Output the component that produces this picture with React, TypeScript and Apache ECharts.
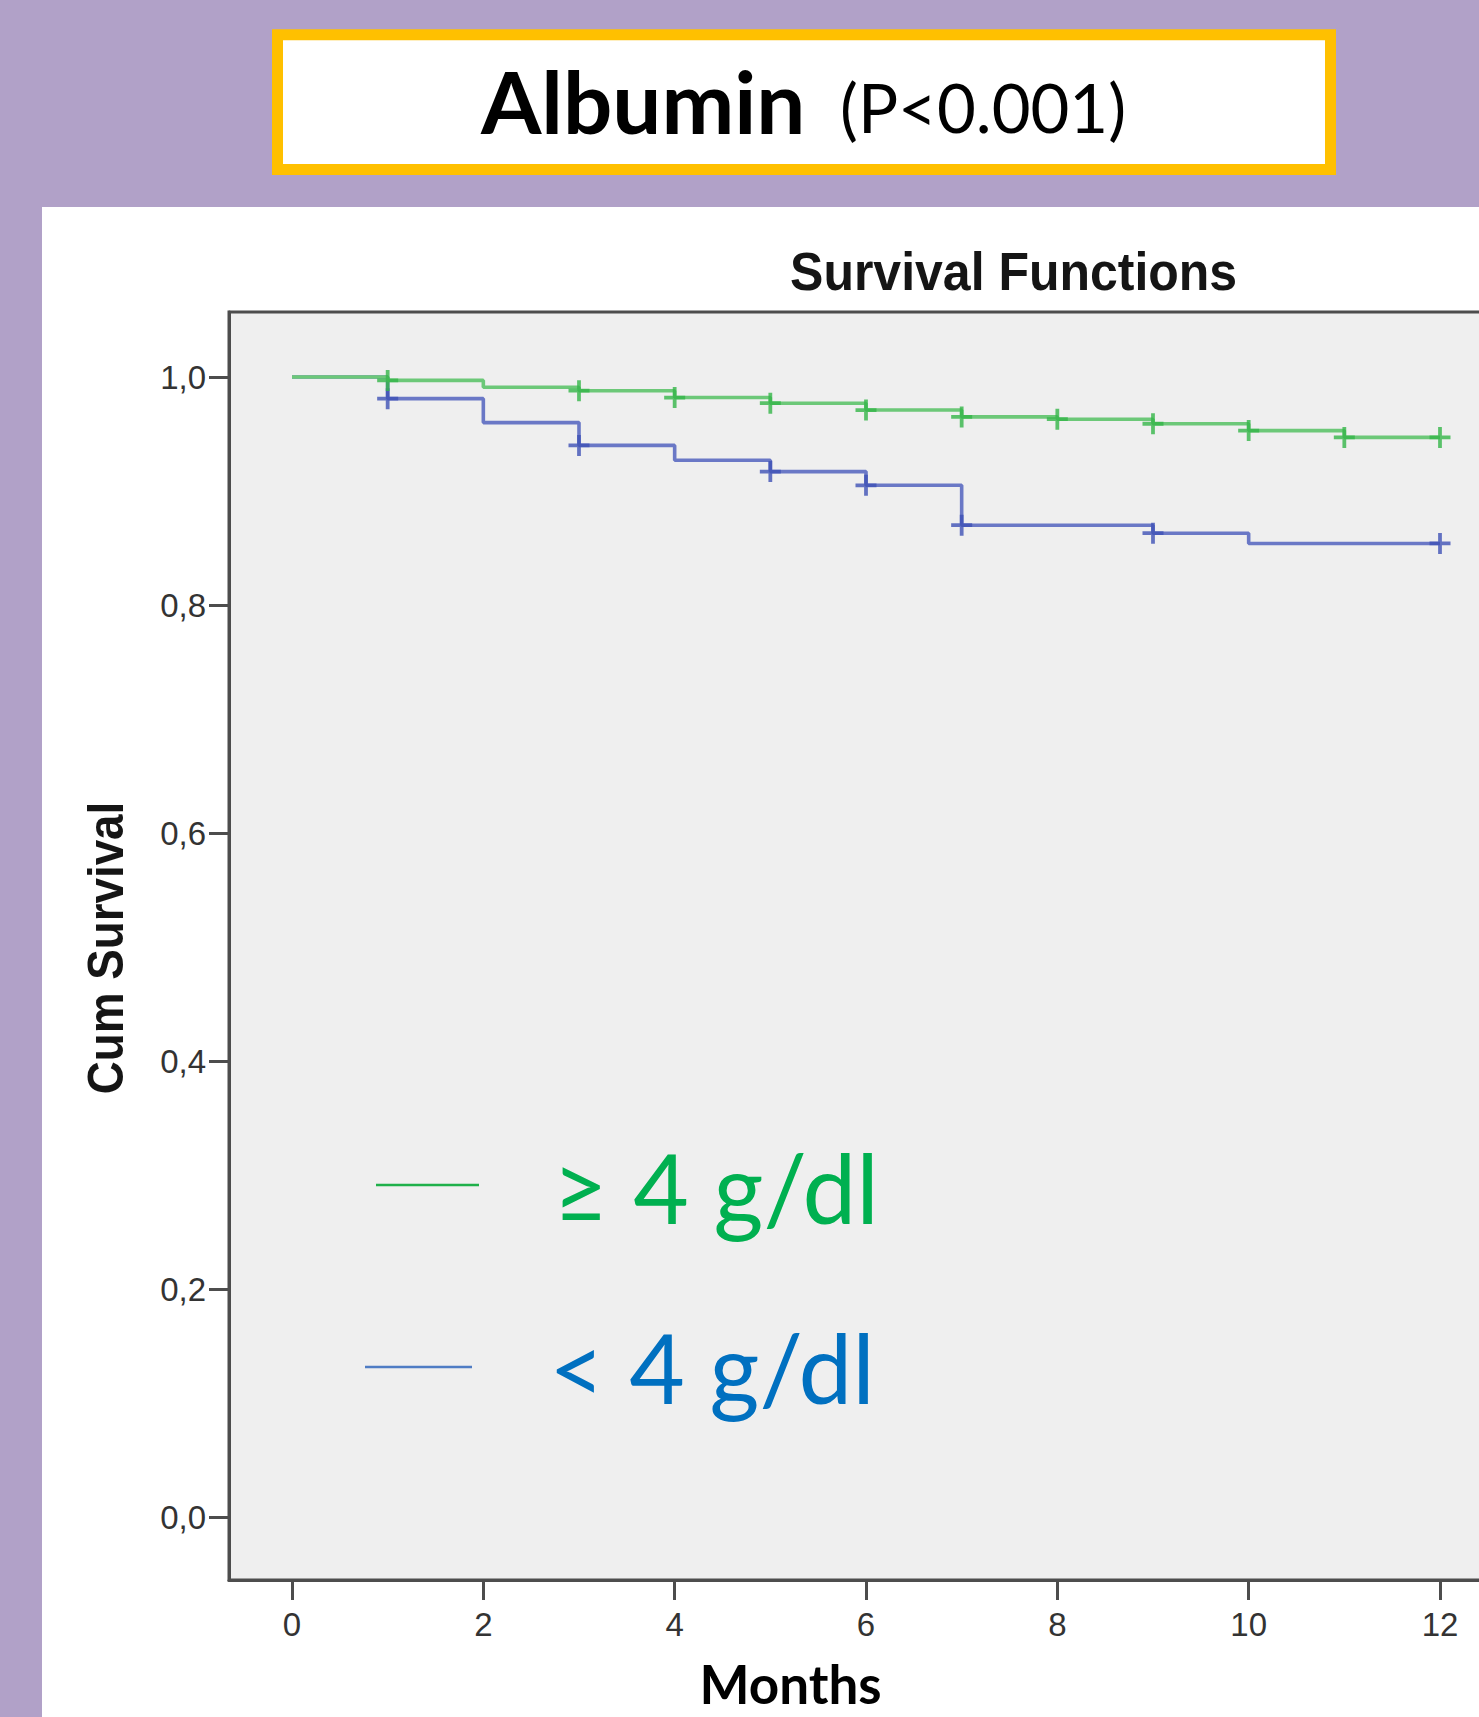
import React, { useEffect, useRef } from "react";
import * as echarts from "echarts";

// ---- data ----
const greenTimes = [0, 1, 2, 3, 4, 5, 6, 7, 8, 9, 10, 11, 12];
const greenSurvival = [1.0, 0.997, 0.991, 0.988, 0.982, 0.977, 0.971, 0.965, 0.963, 0.959, 0.953, 0.947, 0.947];
const greenCensorTimes = [1, 3, 4, 5, 6, 7, 8, 9, 10, 11, 12];

const blueTimes = [0, 1, 2, 3, 4, 5, 6, 7, 9, 10, 12];
const blueSurvival = [1.0, 0.981, 0.96, 0.94, 0.927, 0.917, 0.905, 0.87, 0.863, 0.854, 0.854];
const blueCensorTimes = [1, 3, 5, 6, 7, 9, 12];

const groupLabels = ["≥ 4 g/dl", "< 4 g/dl"];
const xTickValues = [0, 2, 4, 6, 8, 10, 12];
const yTickValues = [0, 0.2, 0.4, 0.6, 0.8, 1.0];

const mainTitle = "Albumin";
const pValueText = "(P<0.001)";
const chartTitle = "Survival Functions";
const xName = "Months";
const yName = "Cum Survival";

function survivalAt(times: number[], surv: number[], t: number): number {
  let v = surv[0];
  for (let i = 0; i < times.length; i++) {
    if (times[i] <= t) v = surv[i];
  }
  return v;
}

const CROSS =
  "path://M-1.8,-10L1.8,-10L1.8,-1.8L10,-1.8L10,1.8L1.8,1.8L1.8,10L-1.8,10L-1.8,1.8L-10,1.8L-10,-1.8L-1.8,-1.8Z";

const PAGE_W = 1479;
const PAGE_H = 1717;
const CANVAS_W = 1540; // wider than the page so the plot frame runs off the right edge

export default function App() {
  const ref = useRef<HTMLDivElement | null>(null);

  useEffect(() => {
    if (!ref.current) return;
    const chart = echarts.init(ref.current, undefined, { renderer: "svg" });

    const W = CANVAS_W;
    const H = PAGE_H;
    // frame box (grey plot area), pixels
    const boxLeft = 229;
    const boxRight = 1519;
    const boxTop = 312;
    const boxBottom = 1580;
    // where 0 / 12 months and 0 / 1 survival fall, pixels
    const px0 = 292;
    const px12 = 1440;
    const py0 = 1517;
    const py1 = 377;
    const pxPerMonth = (px12 - px0) / 12;
    const pyPerUnit = py0 - py1;
    const xAxisMin = (boxLeft - px0) / pxPerMonth;
    const xAxisMax = (boxRight - px0) / pxPerMonth;
    const yAxisMin = -(boxBottom - py0) / pyPerUnit;
    const yAxisMax = 1 + (py1 - boxTop) / pyPerUnit;

    const tickColor = "#4d4d4d";
    const labelStyle = {
      fontFamily: "Liberation Sans, Arial, sans-serif",
      fontSize: 33,
      color: "#333333",
    };

    const greenLine = greenTimes.map((t, i) => [t, greenSurvival[i]]);
    const blueLine = blueTimes.map((t, i) => [t, blueSurvival[i]]);
    const greenCensor = greenCensorTimes.map((t) => [t, survivalAt(greenTimes, greenSurvival, t)]);
    const blueCensor = blueCensorTimes.map((t) => [t, survivalAt(blueTimes, blueSurvival, t)]);

    const option: any = {
      animation: false,
      backgroundColor: "#b1a1c8",
      grid: {
        left: boxLeft,
        top: boxTop,
        right: W - boxRight,
        bottom: H - boxBottom,
        show: true,
        backgroundColor: "#efefef",
        borderColor: tickColor,
        borderWidth: 3,
      },
      xAxis: {
        type: "value",
        min: xAxisMin,
        max: xAxisMax,
        axisLine: { show: true, onZero: false, lineStyle: { color: tickColor, width: 3 } },
        axisTick: {
          show: true,
          length: 20,
          customValues: xTickValues,
          lineStyle: { color: tickColor, width: 3 },
        },
        axisLabel: { ...labelStyle, margin: 28, customValues: xTickValues },
        splitLine: { show: false },
      },
      yAxis: {
        type: "value",
        min: yAxisMin,
        max: yAxisMax,
        axisLine: { show: true, onZero: false, lineStyle: { color: tickColor, width: 3 } },
        axisTick: {
          show: true,
          length: 20,
          customValues: yTickValues,
          lineStyle: { color: tickColor, width: 3 },
        },
        axisLabel: {
          ...labelStyle,
          margin: 23,
          padding: [15, 0, 0, 0],
          customValues: yTickValues,
          formatter: (v: number) => v.toFixed(1).replace(".", ","),
        },
        splitLine: { show: false },
      },
      series: [
        {
          name: groupLabels[1],
          type: "line",
          step: "end",
          data: blueLine,
          showSymbol: false,
          clip: false,
          lineStyle: { color: "#6a78c6", width: 3.6 },
          itemStyle: { color: "#6a78c6" },
          z: 3,
        },
        {
          name: groupLabels[0],
          type: "line",
          step: "end",
          data: greenLine,
          showSymbol: false,
          clip: false,
          lineStyle: { color: "#6cc878", width: 3.6 },
          itemStyle: { color: "#6cc878" },
          z: 4,
        },
        {
          name: groupLabels[1] + " censored",
          type: "scatter",
          data: blueCensor,
          symbol: CROSS,
          symbolSize: 21,
          clip: false,
          itemStyle: { color: "#3f51b5" },
          z: 5,
        },
        {
          name: groupLabels[0] + " censored",
          type: "scatter",
          data: greenCensor,
          symbol: CROSS,
          symbolSize: 21,
          clip: false,
          itemStyle: { color: "#35b549" },
          z: 6,
        },
      ],
      graphic: [
        {
          type: "rect",
          z: -10,
          shape: { x: 42, y: 207, width: W - 42, height: H - 207 },
          style: { fill: "#ffffff" },
        },
        {
          type: "rect",
          z: 10,
          shape: { x: 277.5, y: 34.8, width: 1053, height: 134.7 },
          style: { fill: "#ffffff", stroke: "#ffc000", lineWidth: 11 },
        },
        {
          type: "text",
          z: 20,
          x: 481,
          y: 100,
          style: {
            text: mainTitle,
            font: "bold 87px Lato, 'Noto Sans', sans-serif",
            fill: "#000000",
            align: "left",
            verticalAlign: "middle",
          },
        },
        {
          type: "text",
          z: 20,
          x: 840,
          y: 107,
          style: {
            text: pValueText,
            font: "67px Lato, 'Noto Sans', sans-serif",
            fill: "#000000",
            align: "left",
            verticalAlign: "middle",
          },
        },
        {
          type: "text",
          z: 20,
          x: 1013.6,
          y: 271,
          scaleY: 1.08,
          style: {
            text: chartTitle,
            font: "bold 50px 'Liberation Sans', Arial, sans-serif",
            fill: "#151515",
            align: "center",
            verticalAlign: "middle",
          },
        },
        {
          type: "text",
          z: 20,
          x: 105,
          y: 948,
          rotation: Math.PI / 2,
          scaleY: 1.1,
          style: {
            text: yName,
            font: "bold 45.8px 'Liberation Sans', Arial, sans-serif",
            fill: "#151515",
            align: "center",
            verticalAlign: "middle",
          },
        },
        {
          type: "text",
          z: 20,
          x: 790.5,
          y: 1683,
          style: {
            text: xName,
            font: "bold 53px Lato, 'Noto Sans', sans-serif",
            fill: "#000000",
            align: "center",
            verticalAlign: "middle",
          },
        },
        {
          type: "line",
          z: 20,
          shape: { x1: 376, y1: 1185, x2: 479, y2: 1185 },
          style: { stroke: "#1fb04a", lineWidth: 2.5 },
        },
        {
          type: "line",
          z: 20,
          shape: { x1: 365, y1: 1367, x2: 472, y2: 1367 },
          style: { stroke: "#4f7cc4", lineWidth: 2.5 },
        },
        {
          type: "text",
          z: 20,
          x: 553,
          y: 1186,
          style: {
            text: groupLabels[0],
            font: "96px Lato, 'Noto Sans', sans-serif",
            fill: "#00b050",
            align: "left",
            verticalAlign: "middle",
          },
        },
        {
          type: "text",
          z: 20,
          x: 549,
          y: 1366,
          style: {
            text: groupLabels[1],
            font: "96px Lato, 'Noto Sans', sans-serif",
            fill: "#0070c0",
            align: "left",
            verticalAlign: "middle",
          },
        },
      ],
    };

    chart.setOption(option);
    return () => {
      chart.dispose();
    };
  }, []);

  return (
    <div
      style={{
        position: "absolute",
        left: 0,
        top: 0,
        width: PAGE_W,
        height: PAGE_H,
        overflow: "hidden",
      }}
    >
      <div ref={ref} style={{ width: CANVAS_W, height: PAGE_H }} />
    </div>
  );
}
